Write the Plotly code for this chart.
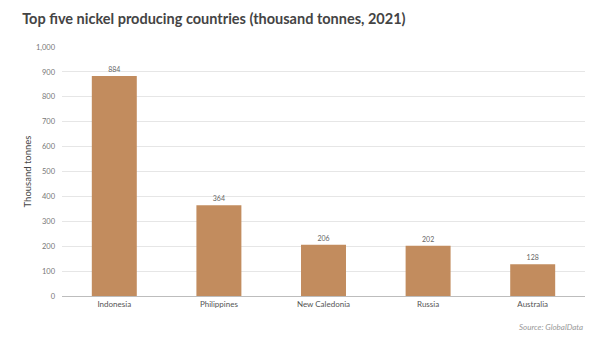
import plotly.graph_objects as go

countries = ["Indonesia", "Philippines", "New Caledonia", "Russia", "Australia"]
production = [884, 364, 206, 202, 128]
y_ticks = [0, 100, 200, 300, 400, 500, 600, 700, 800, 900, 1000]
y_tick_text = ["0", "100", "200", "300", "400", "500", "600", "700", "800", "900", "1,000"]

BAR_COLOR = "#c28c5e"
FONT = "Lato"

fig = go.Figure(
    go.Bar(
        x=countries,
        y=production,
        marker=dict(color=BAR_COLOR, line=dict(width=0)),
        text=[str(v) for v in production],
        textposition="outside",
        textfont=dict(family=FONT, size=7, color="#666666"),
        cliponaxis=False,
        width=0.43,
    )
)

fig.update_layout(
    width=599,
    height=337,
    margin=dict(l=62, r=14, t=47, b=41),
    paper_bgcolor="white",
    plot_bgcolor="white",
    showlegend=False,
    font=dict(family=FONT, color="#555555"),
    title=dict(
        text="<b>Top five nickel producing countries (thousand tonnes, 2021)</b>",
        x=0.037, xanchor="left", y=0.945, yanchor="middle",
        font=dict(family=FONT, size=14.5, color="#444444"),
    ),
    xaxis=dict(
        showgrid=False,
        showline=True,
        linecolor="#bdbdbd",
        linewidth=1,
        ticks="",
        tickfont=dict(family=FONT, size=8, color="#555555"),
    ),
    yaxis=dict(
        range=[0, 1000],
        tickvals=y_ticks,
        ticktext=y_tick_text,
        showgrid=True,
        gridcolor="#e6e6e6",
        gridwidth=1,
        zeroline=False,
        ticks="",
        ticklabelstandoff=6,
        tickfont=dict(family=FONT, size=7.5, color="#777777"),
        title=dict(text="Thousand tonnes", standoff=2,
                   font=dict(family=FONT, size=9.5, color="#444444")),
    ),
    annotations=[
        dict(
            text="<i>Source: GlobalData</i>",
            xref="paper", yref="paper",
            x=1.0, xanchor="right", y=-0.095, yanchor="top",
            showarrow=False,
            font=dict(family=FONT, size=8, color="#999999"),
        )
    ],
)

fig.write_html("out.html")
